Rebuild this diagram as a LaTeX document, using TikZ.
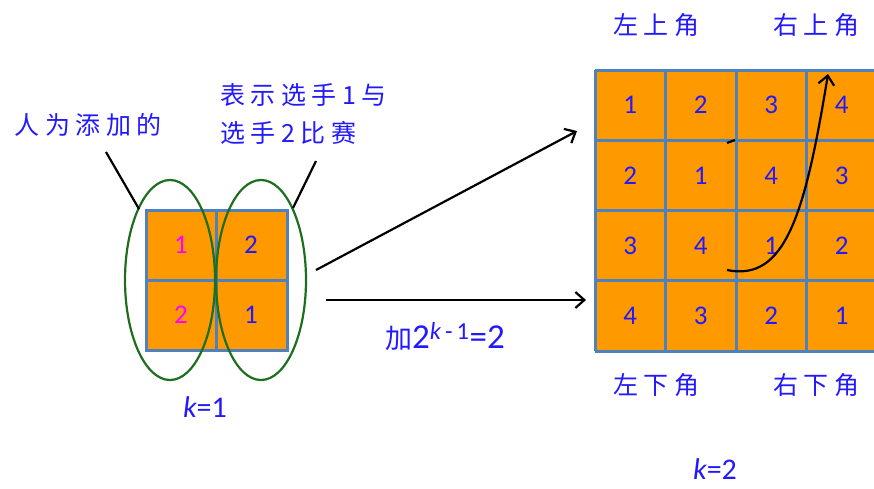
\documentclass[tikz,border=0pt]{standalone}
\usepackage{fontspec}
\usetikzlibrary{arrows.meta,positioning}
\newfontfamily\cjk[LetterSpace=22]{Noto Sans CJK SC}
\newfontfamily\numfont{Carlito}
\definecolor{CellOrange}{RGB}{255,153,0}
\definecolor{GridBlue}{RGB}{79,129,189}
\definecolor{TextBlue}{RGB}{35,25,255}
\definecolor{PinkText}{RGB}{255,0,255}
\definecolor{RingGreen}{RGB}{30,110,30}

\tikzset{
  cellnum/.style={font=\numfont\fontsize{27}{27}\selectfont, text=TextBlue, inner sep=0pt},
  klabel/.style={font=\numfont\fontsize{30}{30}\selectfont, text=TextBlue, inner sep=0pt},
  cnlabel/.style={font=\cjk\fontsize{25}{38}\selectfont, text=TextBlue, inner sep=0pt},
  gridline/.style={GridBlue, line width=3pt},
  ring/.style={RingGreen, line width=2.2pt},
  leader/.style={black, line width=2.2pt},
  flow/.style={black, line width=2.2pt, -{Straight Barb[length=9pt,width=16pt]}},
}

\begin{document}
\begin{tikzpicture}[x=1pt, y=-1pt]
      \clip (0,0) rectangle (874,488);
      % k = 1 board
      \fill[CellOrange] (146,210) rectangle (287,350);
      \draw[gridline] (146,210) rectangle (287,350);
      \draw[gridline] (216,210)--(216,350);
      \draw[gridline] (146,280)--(287,280);
      \node[cellnum, text=PinkText] (a11) at (181,245) {1};
      \node[cellnum] (a12) at (251,245) {2};
      \node[cellnum, text=PinkText] (a21) at (181,315) {2};
      \node[cellnum] (a22) at (251,315) {1};
      \draw[ring] (170,280) ellipse [x radius=45pt, y radius=100pt];
      \draw[ring] (261,280) ellipse [x radius=45pt, y radius=100pt];
      \node[klabel] (k1) at (205,407) {{\itshape k}=1};

      % labels and leader lines
      \node[cnlabel] (added) at (88,125) {人为添加的};
      \node[cnlabel, align=left, anchor=west] (match) at (220,114) {表示选手1与\\选手2比赛};
      \coordinate (addedEnd) at (106,152);
      \coordinate (ringL) at (139,209);
      \coordinate (matchEnd) at (316,161);
      \coordinate (ringR) at (293,208);
      \draw[leader] (addedEnd)--(ringL);
      \draw[leader] (matchEnd)--(ringR);

      % k = 2 board
      \fill[CellOrange] (595,70) rectangle (877,351);
      \foreach \i in {0,...,4} {
        \draw[gridline] (595+70.5*\i,70)--(595+70.5*\i,351);
        \draw[gridline] (595,70+70.25*\i)--(877,70+70.25*\i);
      }
      \foreach \r/\vals in {1/{1,2,3,4},2/{2,1,4,3},3/{3,4,1,2},4/{4,3,2,1}} {
        \foreach \v [count=\c] in \vals
          \node[cellnum] (b\r\c) at ({595+70.5*(\c-0.5)},{70+70.25*(\r-0.5)}) {\v};
      }
      \node[cnlabel] (tl) at (656,25) {左上角};
      \node[cnlabel] (tr) at (816,25) {右上角};
      \node[cnlabel] (bl) at (656,385) {左下角};
      \node[cnlabel] (br) at (816,385) {右下角};
      \node[klabel] (k2) at (715,469) {{\itshape k}=2};

      % copying arrows
      \coordinate (fromA) at (316,270);
      \coordinate (toA) at (577,131);
      \coordinate (fromB) at (326,300);
      \coordinate (toB) at (586,300);
      \draw[flow] (fromA)--(toA);
      \draw[flow] (fromB)--(toB);
      \node[klabel, font=\numfont\fontsize{35}{35}\selectfont] (addlbl) at (445,337) {{\cjk\fontsize{27}{27}\selectfont 加}2\textsuperscript{\itshape k\upshape\,-\,1}=2};

      % swap curve
      \coordinate (curveA) at (727,270);
      \coordinate (curveB) at (828,74);
      \draw[flow] (curveA) .. controls (785,282) and (805,215) .. (curveB);
      \coordinate (tickA) at (727,143);
      \coordinate (tickB) at (735,140);
      \draw[leader] (tickA)--(tickB);
    \end{tikzpicture}
\end{document}
